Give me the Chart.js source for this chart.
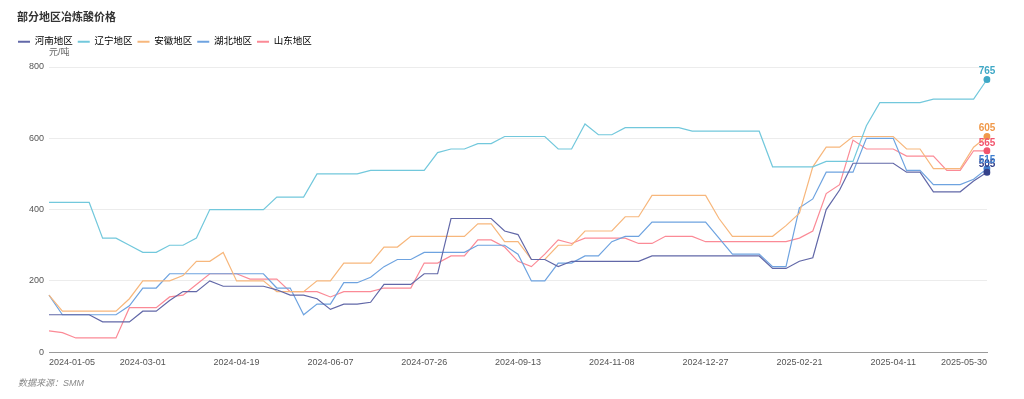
<!DOCTYPE html>
<html>
<head>
<meta charset="utf-8">
<script src="https://cdn.jsdelivr.net/npm/chart.js"></script>
<style>
  html, body { margin: 0; padding: 0; background: #fff; }
  #wrap { position: relative; width: 1024px; height: 399px; }
</style>
</head>
<body>
<div id="wrap"><canvas id="chart"></canvas></div>
<script>
// weekly dates (holiday weeks missing in source)
const dates = [
  "2024-01-05","2024-01-12","2024-01-19","2024-01-26","2024-02-02","2024-02-09","2024-02-23","2024-03-01",
  "2024-03-08","2024-03-15","2024-03-22","2024-03-29","2024-04-05","2024-04-12","2024-04-19",
  "2024-04-26","2024-05-03","2024-05-10","2024-05-17","2024-05-24","2024-05-31","2024-06-07",
  "2024-06-14","2024-06-21","2024-06-28","2024-07-05","2024-07-12","2024-07-19","2024-07-26",
  "2024-08-02","2024-08-09","2024-08-16","2024-08-23","2024-08-30","2024-09-06","2024-09-13",
  "2024-09-20","2024-09-27","2024-10-11","2024-10-18","2024-10-25","2024-11-01","2024-11-08",
  "2024-11-15","2024-11-22","2024-11-29","2024-12-06","2024-12-13","2024-12-20","2024-12-27",
  "2025-01-03","2025-01-10","2025-01-17","2025-01-24","2025-02-07","2025-02-14","2025-02-21",
  "2025-02-28","2025-03-07","2025-03-14","2025-03-21","2025-03-28","2025-04-04","2025-04-11",
  "2025-04-18","2025-04-25","2025-05-02","2025-05-09","2025-05-16","2025-05-23","2025-05-30"
];

// 元/吨
const henan = [
  105,105,105,105,85,85,85,115,115,145,
  170,170,200,185,185,185,185,175,160,160,
  150,120,135,135,140,190,190,190,220,220,
  375,375,375,375,340,330,260,260,240,255,
  255,255,255,255,255,270,270,270,270,270,
  270,270,270,270,235,235,255,265,400,455,
  530,530,530,530,505,505,450,450,450,480,
  505
];
const liaoning = [
  420,420,420,420,320,320,300,280,280,300,
  300,320,400,400,400,400,400,435,435,435,
  500,500,500,500,510,510,510,510,510,560,
  570,570,585,585,605,605,605,605,570,570,
  640,610,610,630,630,630,630,630,620,620,
  620,620,620,620,520,520,520,520,535,535,
  535,635,700,700,700,700,710,710,710,710,
  765
];
const anhui = [
  160,115,115,115,115,115,150,200,200,200,
  215,255,255,280,200,200,200,170,170,170,
  200,200,250,250,250,295,295,325,325,325,
  325,325,360,360,310,310,260,260,300,300,
  340,340,340,380,380,440,440,440,440,440,
  375,325,325,325,325,355,390,520,575,575,
  605,605,605,605,570,570,515,515,515,575,
  605
];
const hubei = [
  160,105,105,105,105,105,130,180,180,220,
  220,220,220,220,220,220,220,180,180,105,
  135,135,195,195,210,240,260,260,280,280,
  280,280,300,300,300,275,200,200,250,250,
  270,270,310,325,325,365,365,365,365,365,
  320,275,275,275,240,240,405,430,505,505,
  505,600,600,600,510,510,470,470,470,485,
  515
];
const shandong = [
  60,55,40,40,40,40,125,125,125,155,
  160,190,220,220,220,205,205,205,170,170,
  170,155,170,170,170,180,180,180,250,250,
  270,270,315,315,295,255,240,275,315,305,
  320,320,320,320,305,305,325,325,325,310,
  310,310,310,310,310,310,320,340,445,470,
  595,570,570,570,550,550,550,510,510,565,
  565
];

const seriesNames = ["河南地区", "辽宁地区", "安徽地区", "湖北地区", "山东地区"];
const seriesData = [henan, liaoning, anhui, hubei, shandong];
const lineColors = ["#6268a8", "#72c8dc", "#f7b77c", "#6ea3e0", "#fb8a96"];
const endColors = ["#34418a", "#3fa8c6", "#f0994a", "#3f7fcf", "#f2566e"];
const yTicks = [0, 200, 400, 600, 800];

const FONT = "'Liberation Sans', 'Noto Sans CJK SC', sans-serif";
const last = dates.length - 1;

const datasets = seriesData.map((d, i) => ({
  label: seriesNames[i],
  data: d,
  borderColor: lineColors[i],
  backgroundColor: lineColors[i],
  borderWidth: 1.2,
  tension: 0,
  fill: false,
  pointRadius: d.map((_, k) => k === last ? 3.5 : 0),
  pointBackgroundColor: endColors[i],
  pointBorderColor: endColors[i],
  pointBorderWidth: 0,
  pointHoverRadius: 0,
  _endColor: endColors[i]
}));

// title, unit, source and end labels
const extras = {
  id: "extras",
  afterDatasetsDraw(chart) {
    const ctx = chart.ctx;
    ctx.save();
    chart.data.datasets.forEach((ds, i) => {
      const pt = chart.getDatasetMeta(i).data[last];
      if (!pt) return;
      ctx.fillStyle = ds._endColor;
      ctx.font = "bold 10px " + FONT;
      ctx.textAlign = "center";
      ctx.textBaseline = "middle";
      ctx.fillText(String(ds.data[last]), pt.x, pt.y - 8);
    });
    ctx.restore();
  },
  afterDraw(chart) {
    const ctx = chart.ctx;
    ctx.save();
    ctx.textBaseline = "middle";
    ctx.textAlign = "left";
    ctx.fillStyle = "#333";
    ctx.font = "bold 11px " + FONT;
    ctx.fillText("部分地区冶炼酸价格", 17, 18);
    ctx.fillStyle = "#666";
    ctx.font = "9px " + FONT;
    ctx.fillText("元/吨", chart.chartArea.left, 53);
    ctx.fillStyle = "#888";
    ctx.font = "italic 9px " + FONT;
    ctx.fillText("数据来源：SMM", 18, 383);
    ctx.restore();
  }
};

new Chart(document.getElementById("chart").getContext("2d"), {
  type: "line",
  data: { labels: dates, datasets },
  options: {
    responsive: true,
    maintainAspectRatio: false,
    animation: false,
    layout: { padding: { left: 13, right: 37, top: 32, bottom: 26 } },
    plugins: {
      // empty title used as a spacer between the legend and the plot
      title: {
        display: true,
        text: " ",
        weight: 100,
        color: "rgba(0,0,0,0)",
        font: { size: 1, lineHeight: 1 },
        padding: { top: 0, bottom: 9.5 }
      },
      tooltip: { enabled: false },
      legend: {
        display: true,
        position: "top",
        align: "start",
        labels: {
          boxWidth: 12,
          boxHeight: 2,
          padding: 5,
          color: "#555",
          font: { family: FONT, size: 9.5 },
          generateLabels(chart) {
            return chart.data.datasets.map((ds, i) => ({
              text: ds.label,
              fillStyle: ds.borderColor,
              strokeStyle: ds.borderColor,
              lineWidth: 0,
              hidden: false,
              datasetIndex: i
            }));
          }
        }
      }
    },
    scales: {
      x: {
        type: "category",
        grid: { display: false, drawTicks: false },
        border: { display: true, color: "#9a9a9a", width: 1 },
        ticks: {
          autoSkip: false,
          maxRotation: 0,
          minRotation: 0,
          align: "inner",
          padding: 5,
          color: "#555",
          font: { family: FONT, size: 9 },
          callback: (v, i) => (i % 7 === 0 ? dates[i] : null)
        }
      },
      y: {
        min: 0,
        max: 800,
        afterFit: (scale) => { scale.width = 36; },
        afterBuildTicks: (scale) => { scale.ticks = yTicks.map(v => ({ value: v })); },
        grid: { color: "#ececec", drawTicks: false, lineWidth: 1 },
        border: { display: false },
        ticks: {
          padding: 5,
          color: "#555",
          font: { family: FONT, size: 9 }
        }
      }
    }
  },
  plugins: [extras]
});
</script>
</body>
</html>
